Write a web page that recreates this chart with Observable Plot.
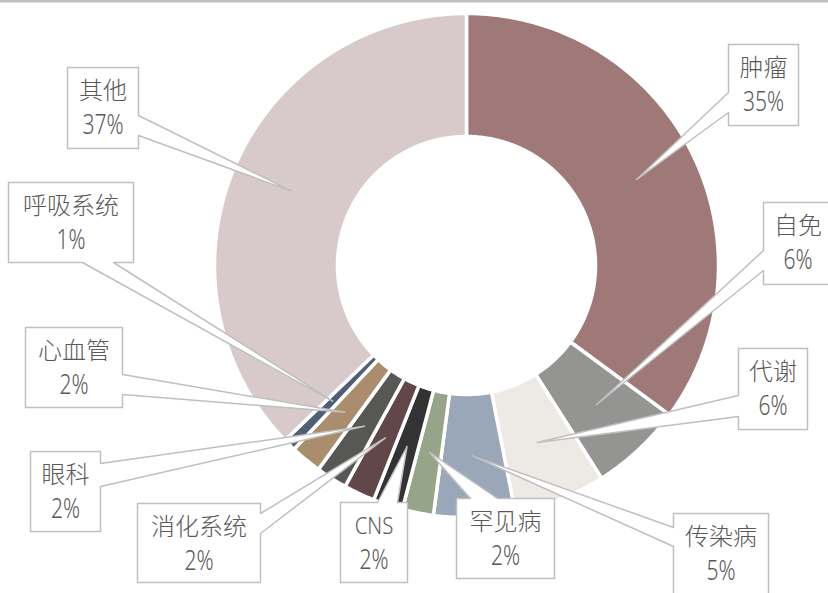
<!DOCTYPE html>
<html>
<head>
<meta charset="utf-8">
<script src="https://cdn.jsdelivr.net/npm/d3@7"></script>
<script src="https://cdn.jsdelivr.net/npm/@observablehq/plot@0.6"></script>
<style>
  html, body { margin: 0; padding: 0; background: #ffffff; }
  #chart { width: 828px; height: 593px; overflow: hidden; }
</style>
</head>
<body>
<div id="chart"></div>
<script>
// ---- data ----
const categories = ["肿瘤", "自免", "代谢", "传染病", "罕见病", "CNS", "消化系统", "眼科", "心血管", "呼吸系统", "其他"];
const shares = [35.1, 5.9, 5.9, 5.2, 2.0, 1.9, 2.0, 2.0, 2.0, 0.8, 37.2];
const colors = ["#9e7977", "#949492", "#ede9e4", "#9aa7b8", "#96a488", "#333333", "#61464a", "#575755", "#a98d6c", "#4f5f76", "#d8caca"];

// ---- layout (callout boxes: left, top, right, bottom, side of pointer, pointer base start/end) ----
const boxLeft   = [728, 763, 738, 673, 456, 340, 137,  30,  25,   8,  67];
const boxTop    = [ 44, 202, 348, 513, 498, 502, 503, 451, 327, 182,  67];
const boxRight  = [798, 832, 807, 768, 554, 407, 260, 100, 122, 133, 138];
const boxBottom = [125, 284, 429, 600, 578, 582, 582, 531, 407, 262, 148];
const boxSide   = ["left", "left", "left", "left", "top", "top", "right", "right", "right", "bottom", "right"];
const baseStart = [ 92, 250, 395, 527, 470, 377, 513, 463, 374,  82, 115];
const baseEnd   = [112, 270, 416, 546, 497, 397, 533, 486, 394, 113, 135];

const W = 828, H = 593;
const cx = 466, cy = 265, R = 252, r0 = 129;

const data = categories.map((name, i) => ({name, value: shares[i], color: colors[i], i}));
const pie = d3.pie().sort(null).value(d => d.value)(data);
const total = d3.sum(shares);
const fmt = v => Math.round(v / total * 100) + "%";

// slice polygons
const slicePts = [];
for (const a of pie) {
  const n = Math.max(4, Math.ceil((a.endAngle - a.startAngle) / 0.01));
  for (let k = 0; k <= n; k++) {
    const t = a.startAngle + (a.endAngle - a.startAngle) * k / n;
    slicePts.push({name: a.data.name, color: a.data.color, x: cx + R * Math.sin(t), y: cy - R * Math.cos(t)});
  }
  for (let k = n; k >= 0; k--) {
    const t = a.startAngle + (a.endAngle - a.startAngle) * k / n;
    slicePts.push({name: a.data.name, color: a.data.color, x: cx + r0 * Math.sin(t), y: cy - r0 * Math.cos(t)});
  }
}

// callout polygons
const calloutPts = [];
const labels = [];
for (const a of pie) {
  const i = a.data.i;
  const mid = (a.startAngle + a.endAngle) / 2;
  const rm = (R + r0) / 2;
  const tip = [cx + rm * Math.sin(mid), cy - rm * Math.cos(mid)];
  const x1 = boxLeft[i], y1 = boxTop[i], x2 = boxRight[i], y2 = boxBottom[i];
  const b0 = baseStart[i], b1 = baseEnd[i];
  let p;
  switch (boxSide[i]) {
    case "left":   p = [[x1,y1],[x2,y1],[x2,y2],[x1,y2],[x1,b1],tip,[x1,b0]]; break;
    case "right":  p = [[x1,y1],[x2,y1],[x2,b0],tip,[x2,b1],[x2,y2],[x1,y2]]; break;
    case "top":    p = [[x1,y1],[b0,y1],tip,[b1,y1],[x2,y1],[x2,y2],[x1,y2]]; break;
    default:       p = [[x1,y1],[x2,y1],[x2,y2],[b1,y2],tip,[b0,y2],[x1,y2]];
  }
  for (const [x, y] of p) calloutPts.push({name: a.data.name, x, y});
  labels.push({name: a.data.name, pct: fmt(a.data.value), x: (x1 + x2) / 2, y1: y1 + 24, y2: y1 + 58});
}

const font = "'Noto Sans', 'Noto Sans CJK SC', sans-serif";

const chart = Plot.plot({
  width: W,
  height: H,
  margin: 0,
  x: {domain: [0, W], range: [0, W], axis: null},
  y: {domain: [0, H], range: [0, H], axis: null},
  marks: [
    Plot.line(slicePts, {x: "x", y: "y", z: "name", fill: "color", stroke: "white", strokeWidth: 3.5, curve: "linear-closed", strokeLinejoin: "miter"}),
    Plot.line(calloutPts, {x: "x", y: "y", z: "name", fill: "white", stroke: "#bfbfbf", strokeWidth: 1.5, curve: "linear-closed"}),
    Plot.text(labels, {x: "x", y: "y1", text: "name", fontSize: 24, fill: "#595959", fontFamily: font, fontWeight: 300}),
    Plot.text(labels, {x: "x", y: "y2", text: "pct", fontSize: 27, fill: "#595959", fontFamily: font, fontWeight: 300}),
    Plot.frame({anchor: "top", stroke: "#c0c0c0", strokeWidth: 4})
  ]
});
// narrow the percentage glyphs (and the Latin label) as in the reference
d3.select(chart).selectAll("text").each(function() {
  const s = this.textContent;
  if (!/%$/.test(s) && s !== "CNS") return;
  const t = this.getAttribute("transform");
  if (t) this.setAttribute("transform", t + (s === "CNS" ? " scale(0.85,1)" : " scale(0.78,1)"));
});
document.getElementById("chart").appendChild(chart);
</script>
</body>
</html>
